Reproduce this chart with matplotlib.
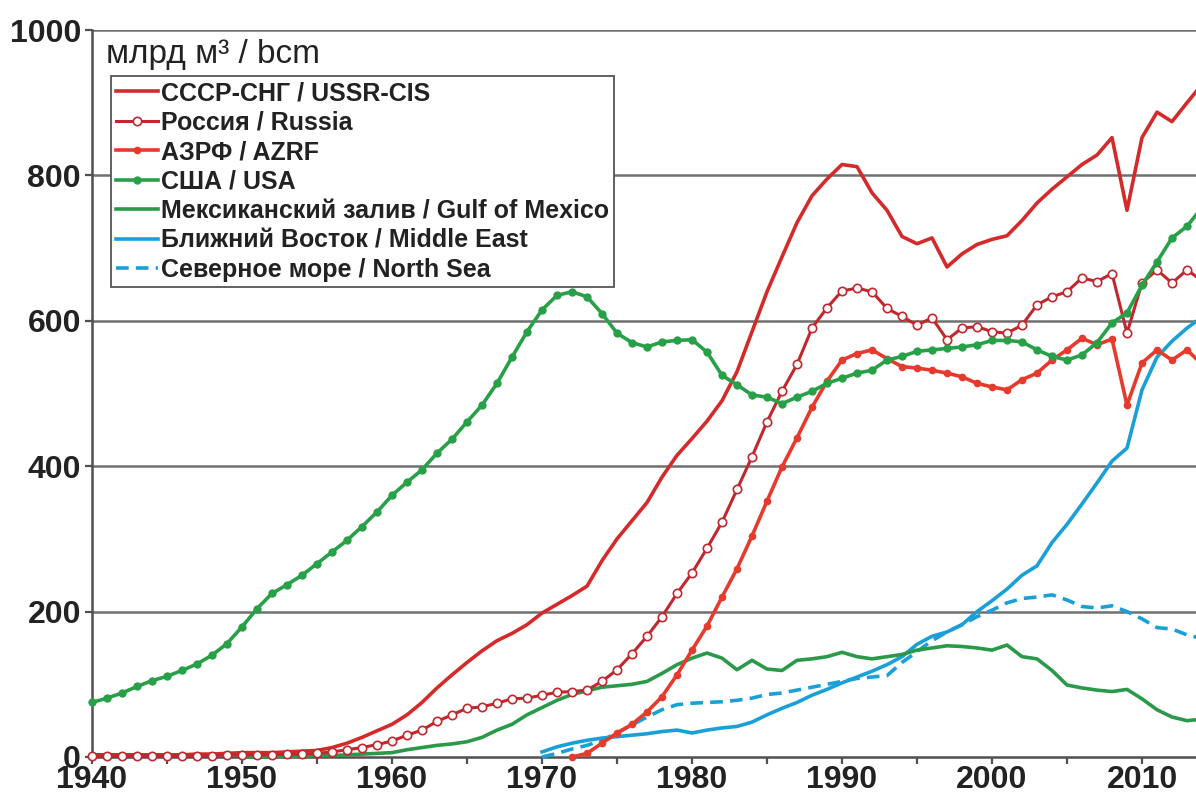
import numpy as np
import matplotlib
matplotlib.use('Agg')
import matplotlib.pyplot as plt
from matplotlib.ticker import MultipleLocator

plt.rcParams['font.family'] = ['Liberation Sans', 'DejaVu Sans']

RED, DRED, ORED = '#D42A2A', '#C1272D', '#E63A2C'
GREEN, GREEN2 = '#28A048', '#2A9A4A'
BLUE = '#1AA0D6'
GRID = '#707070'
AX = '#505050'

# years for each series
years_ussr = np.arange(1940, 2015)
years_rus = np.arange(1940, 2015)
years_usa = np.arange(1940, 2015)
years_azrf = np.arange(1972, 2015)
years_gom = np.arange(1950, 2015)
years_me = np.arange(1970, 2015)
years_ns = np.arange(1970, 2015)

# bcm
ussr = [3, 3, 3, 3, 3, 3, 3, 4, 4, 5,
        6, 6, 6, 7, 8, 9, 13, 19, 27, 36,
        45, 58, 75, 95, 113, 130, 146, 160, 170, 182,
        198, 210, 222, 235, 270, 300, 325, 350, 385, 415,
        438, 462, 490, 530, 585, 640, 688, 735, 772, 795,
        815, 812, 776, 752, 716, 706, 714, 674, 692, 705,
        712, 717, 738, 762, 781, 798, 815, 828, 852, 752,
        852, 887, 874, 900, 925]
russia = [2, 2, 2, 2, 2, 2, 2, 2, 2, 3,
          3, 3, 3, 4, 4, 5, 7, 10, 13, 17,
          22, 30, 37, 49, 58, 67, 69, 74, 80, 81,
          85, 89, 90, 92, 104, 120, 142, 166, 193, 225,
          253, 287, 323, 368, 413, 461, 503, 540, 590, 618,
          641, 645, 640, 617, 606, 594, 604, 574, 590, 592,
          585, 583, 594, 622, 633, 640, 659, 654, 665, 583,
          652, 670, 652, 670, 655]
azrf = [0, 5, 19, 33, 45, 62, 83, 113,
        147, 180, 220, 259, 304, 352, 399, 439, 481, 517,
        546, 555, 560, 548, 537, 535, 532, 528, 523, 514,
        509, 505, 519, 528, 546, 560, 576, 567, 575, 484,
        542, 560, 546, 560, 540]
usa = [75, 81, 88, 97, 105, 111, 119, 128, 140, 156,
       179, 204, 225, 237, 250, 266, 282, 298, 317, 337,
       360, 378, 395, 418, 437, 461, 484, 514, 550, 585,
       615, 635, 640, 633, 610, 583, 570, 564, 571, 573,
       574, 557, 525, 512, 498, 495, 486, 495, 503, 514,
       521, 528, 532, 546, 551, 558, 560, 562, 564, 567,
       573, 573, 571, 560, 551, 546, 553, 570, 597, 611,
       649, 681, 714, 730, 756]
gulf = [0, 0, 0, 1, 1, 2, 2, 3, 4, 5,
        6, 10, 13, 16, 18, 21, 27, 37, 45, 58,
        68, 78, 86, 91, 96, 98, 100, 104, 115, 127,
        136, 143, 136, 120, 133, 121, 119, 133, 135, 138,
        144, 138, 135, 138, 141, 147, 150, 153, 152, 150,
        147, 154, 138, 135, 119, 99, 95, 92, 90, 93,
        80, 65, 55, 50, 52]
mideast = [7, 14, 19, 23, 26, 28, 30, 32, 35, 37,
           33, 37, 40, 42, 48, 58, 67, 75, 85, 93,
           102, 110, 118, 127, 138, 155, 166, 172, 182, 200,
           215, 231, 250, 263, 295, 320, 348, 377, 407, 425,
           505, 550, 572, 590, 605]
northsea = [0, 5, 11, 16, 23, 33, 44, 55, 65, 72,
            74, 75, 76, 78, 81, 86, 88, 92, 96, 100,
            104, 108, 110, 112, 130, 145, 160, 172, 182, 193,
            202, 212, 218, 220, 223, 216, 207, 205, 208, 200,
            190, 178, 176, 168, 163]

labels = ['СССР-СНГ / USSR-CIS', 'Россия / Russia', 'АЗРФ / AZRF', 'США / USA',
          'Мексиканский залив / Gulf of Mexico', 'Ближний Восток / Middle East',
          'Северное море / North Sea']

fig = plt.figure(figsize=(11.96, 8), dpi=100)
ax = fig.add_axes([92 / 1196, 43 / 800, 1104 / 1196, 727 / 800])

kw = dict(clip_on=False)
h_ns, = ax.plot(years_ns, northsea, color=BLUE, lw=2.6, ls=(0, (3.5, 2)), zorder=3, **kw)
h_me, = ax.plot(years_me, mideast, color=BLUE, lw=2.6, zorder=3, **kw)
h_gom, = ax.plot(years_gom, gulf, color=GREEN2, lw=2.6, zorder=3, **kw)
h_ussr, = ax.plot(years_ussr, ussr, color=RED, lw=2.6, zorder=4, **kw)
h_azrf, = ax.plot(years_azrf, azrf, color=ORED, lw=2.6, marker='o', ms=4.5,
                  mfc=ORED, mec=ORED, zorder=5, **kw)
h_usa, = ax.plot(years_usa, usa, color=GREEN, lw=2.6, marker='o', ms=5,
                 mfc=GREEN, mec=GREEN, zorder=6, **kw)
h_rus, = ax.plot(years_rus, russia, color=DRED, lw=2.2, marker='o', ms=6,
                 mfc='white', mec=DRED, mew=1.2, zorder=5, **kw)

ax.set_xlim(1940, 2013.6)
ax.set_ylim(0, 1000)
ax.xaxis.set_major_locator(MultipleLocator(10))
ax.xaxis.set_minor_locator(MultipleLocator(5))
ax.yaxis.set_major_locator(MultipleLocator(200))
ax.tick_params(axis='both', which='both', direction='out', length=5, width=1.6,
               color=AX, labelsize=23, pad=3)
ax.tick_params(axis='x', pad=1)
for t in ax.get_xticklabels() + ax.get_yticklabels():
    t.set_fontweight('bold')
    t.set_color('#222222')

for v in range(200, 1001, 200):
    ax.axhline(v, color=GRID, lw=1.8, zorder=1)
ax.spines['right'].set_visible(False)
ax.spines['top'].set_visible(False)
for s in ('left', 'bottom'):
    ax.spines[s].set_color(AX)
    ax.spines[s].set_linewidth(1.8)

ax.text(0.0127, 0.966, 'млрд м³ / bcm', transform=ax.transAxes, fontsize=24,
        ha='left', va='center', color='#222222')

handles = [h_ussr, h_rus, h_azrf, h_usa, h_gom, h_me, h_ns]
leg = ax.legend(handles, labels, loc='upper left', bbox_to_anchor=(0.0172, 0.9367),
                borderaxespad=0, fancybox=False, framealpha=1, edgecolor='#555555',
                prop={'size': 18, 'weight': 'bold'}, handlelength=1.7, handletextpad=0.1,
                labelspacing=0.22, borderpad=0.2)
leg.get_frame().set_linewidth(1.3)
for t in leg.get_texts():
    t.set_color('#222222')

fig.savefig('out.png', dpi=100)
